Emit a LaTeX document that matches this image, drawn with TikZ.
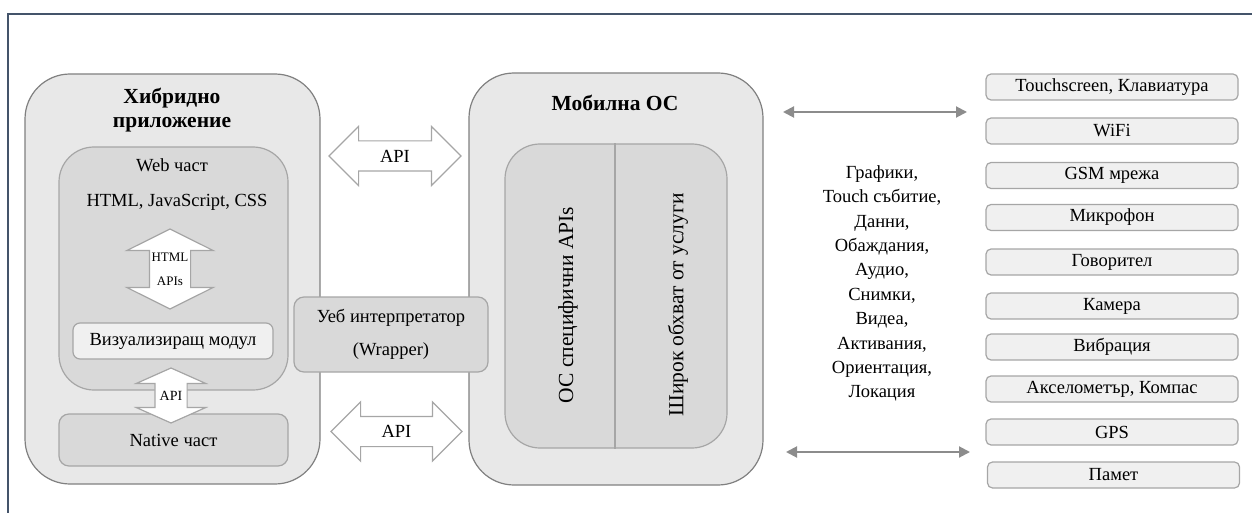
\documentclass[tikz,border=0pt]{standalone}
\usepackage{fontspec}
\setmainfont{Liberation Serif}
\usetikzlibrary{shapes.arrows,arrows.meta}
\definecolor{frame}{HTML}{44546A}
\definecolor{outerfill}{HTML}{E8E8E8}
\definecolor{outerline}{HTML}{808080}
\definecolor{innerfill}{HTML}{D9D9D9}
\definecolor{innerline}{HTML}{A6A6A6}
\definecolor{lightfill}{HTML}{F0F0F0}
\definecolor{arrowgray}{HTML}{8C8C8C}
\begin{document}
\begin{tikzpicture}[x=1pt,y=-1pt,
  txt/.style={font=\fontsize{18.5}{24.4}\selectfont},
  outerbox/.style={draw=outerline,fill=outerfill,line width=1.2pt,inner sep=0pt},
  innerbox/.style={draw=innerline,fill=innerfill,line width=1.2pt,inner sep=0pt},
  lightbox/.style={draw=innerline,fill=lightfill,line width=1.2pt,inner sep=0pt},
  rbox/.style={lightbox,rounded corners=5pt,minimum width=252pt,minimum height=26pt,txt},
  hollow/.style={double arrow,draw=innerline,fill=white,line width=1.2pt},
  thinarrow/.style={draw=arrowgray,line width=2pt,{Triangle[width=11pt,length=11pt]}-{Triangle[width=11pt,length=11pt]}}
]
\useasboundingbox (0,0) rectangle (1252,513);
% page frame
\draw[frame,line width=2pt] (8,513) -- (8,14) -- (1252,14);

% hybrid app
\node[outerbox,rounded corners=45pt,minimum width=295pt,minimum height=410pt] (hyb) at (172.5,279) {};
\node[font=\fontsize{21.5}{24}\selectfont\bfseries,align=center] (hybt) at (172,110) {Хибридно\\приложение};
\node[innerbox,rounded corners=35pt,minimum width=229pt,minimum height=243pt] (web) at (173.5,268.5) {};
\node[txt] (webt) at (172,165) {Web част};
\node[txt] (tech) at (177,202) {HTML, JavaScript, CSS};
\node[hollow,shape border rotate=90,inner xsep=20pt,inner ysep=0pt,double arrow head extend=22.5pt,double arrow tip angle=127,minimum height=80pt] (htmlapi) at (170,269) {};
\node[font=\fontsize{13}{24}\selectfont,align=center] (htmlapit) at (htmlapi) {HTML\\APIs};
\node[lightbox,rounded corners=7pt,minimum width=200pt,minimum height=36pt,txt] (viz) at (173,341) {Визуализиращ модул};
\node[innerbox,rounded corners=10pt,minimum width=229pt,minimum height=52pt,txt] (nat) at (173.5,440) {Native част};
\node[hollow,shape border rotate=90,inner xsep=15.5pt,inner ysep=0pt,double arrow head extend=18.5pt,double arrow tip angle=132,minimum height=55pt] (api3) at (171,395.5) {};
\node[font=\fontsize{14}{16}\selectfont] (api3t) at (api3) {API};

% mobile OS
\node[outerbox,rounded corners=45pt,minimum width=294pt,minimum height=412pt] (mos) at (616,279) {};
\node[font=\fontsize{21.5}{24}\selectfont\bfseries] (most) at (615,103) {Мобилна ОС};
\node[innerbox,rounded corners=35pt,minimum width=222pt,minimum height=304pt] (osin) at (616,296) {};
\draw[innerline,line width=1.2pt] (osin.north -| 615,0) -- (osin.south -| 615,0);
\node[font=\fontsize{21.5}{24}\selectfont,rotate=90] (osapi) at (568,305) {ОС специфични APIs};
\node[font=\fontsize{21.5}{24}\selectfont,rotate=90] (serv) at (678,305) {Широк обхват от услуги};

% wrapper
\node[innerbox,rounded corners=10pt,minimum width=194pt,minimum height=75pt,align=center,font=\fontsize{18.5}{33}\selectfont] (wrap) at (391,334.5) {Уеб интерпретатор\\(Wrapper)};

% API arrows between
\node[hollow,inner xsep=0pt,inner ysep=14.5pt,double arrow head extend=14.5pt,double arrow tip angle=90,minimum height=132pt] (api1) at (395,156) {};
\node[txt] (api1t) at (api1) {API};
\node[hollow,inner xsep=0pt,inner ysep=14.5pt,double arrow head extend=14.5pt,double arrow tip angle=90,minimum height=131pt] (api2) at (396.5,431.5) {};
\node[txt] (api2t) at (api2) {API};

% list
\node[txt,align=center] (list) at (882,283.5) {Графики,\\Touch събитие,\\Данни,\\Обаждания,\\Аудио,\\Снимки,\\Видеа,\\Активания,\\Ориентация,\\Локация};

% right boxes
\node[rbox] (b1) at (1112,87) {Touchscreen, Клавиатура};
\node[rbox] (b2) at (1112,131) {WiFi};
\node[rbox] (b3) at (1112,175.5) {GSM мрежа};
\node[rbox] (b4) at (1112,217.5) {Микрофон};
\node[rbox] (b5) at (1112,262) {Говорител};
\node[rbox] (b6) at (1112,306) {Камера};
\node[rbox] (b7) at (1112,347) {Вибрация};
\node[rbox] (b8) at (1112,389) {Акселометър, Компас};
\node[rbox] (b9) at (1112,432) {GPS};
\node[rbox] (b10) at (1113.5,475) {Памет};

% thin arrows
\coordinate (ua1) at (783,112);
\coordinate (ua2) at (967,112);
\coordinate (la1) at (786,452);
\coordinate (la2) at (970,452);
\draw[thinarrow] (ua1) -- (ua2);
\draw[thinarrow] (la1) -- (la2);
\end{tikzpicture}
\end{document}
